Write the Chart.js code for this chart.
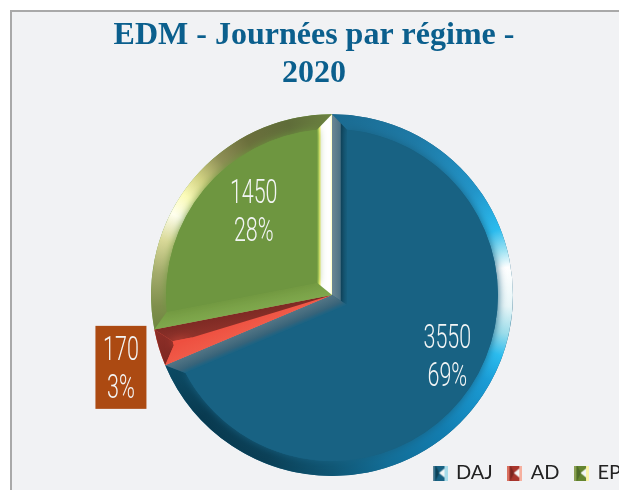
<!DOCTYPE html>
<html><head><meta charset="utf-8">
<script src="https://cdn.jsdelivr.net/npm/chart.js@4/dist/chart.umd.min.js"></script>
<style>
html,body{margin:0;padding:0;background:#fff;overflow:hidden;width:619px;height:490px}
#frame{position:absolute;left:10px;top:10px;width:660px;height:520px;border:2px solid #a9a9a9;background:#f1f2f4}
#box{position:absolute;left:0;top:0;width:640px;height:510px}
</style></head><body>
<div id="frame"><div id="box"><canvas id="c"></canvas></div></div>
<script>
const titleLines = ['EDM - Journées par régime -', '2020'];
const categories = ['DAJ', 'AD', 'EP'];
const values = [3550, 170, 1450];
const percents = ['69%', '3%', '28%'];

const looks = [
 { inner:'#186283', d:15, legend:['#186283','#5f8496','#0d4258','#a9dcea'],
   rim:[[0,'#1a6a90'],[.08,'#1e7aa6'],[.15,'#2295c9'],[.19,'#2bbcef'],[.21,'#9fe3f3'],[.225,'#ffffff'],[.26,'#e8f6f8'],[.285,'#9adcea'],[.305,'#2bbcef'],[.33,'#1a9cd6'],[.39,'#127db0'],[.45,'#126d96'],[.5,'#0f5674'],[.56,'#0a3f56'],[.63,'#083a50'],[.69,'#0c4c66']],
   startEdge:[[0,'#6b8794'],[.55,'#4f7385'],[.62,'#0e4158'],[1,'#155a78']], endEdge:[[0,'#527585'],[.7,'#3a6378'],[1,'#1c6484']] },
 { inner:'#ee5040', d:15, legend:['#a8352c','#d9705f','#7a2620','#f6b09f'],
   rim:[[.68,'#7a2620'],[.72,'#8e2f28']],
   startEdge:[[0,'#f05a48'],[1,'#ee5040']], endEdge:[[0,'#7e2a24'],[1,'#8f322a']] },
 { inner:'#6e9640', d:15, legend:['#64852f','#8a9f55','#4f6b2a','#fbf4a8'],
   rim:[[.71,'#67823a'],[.74,'#7f8f4c'],[.77,'#a3ab6b'],[.80,'#d9d998'],[.825,'#ffffee'],[.845,'#fbfbb8'],[.865,'#d2d283'],[.89,'#8e8f55'],[.92,'#6b6f3c'],[.96,'#5f6c39'],[1,'#6b8240']],
   startEdge:[[0,'#7fa84d'],[1,'#759c42']], endEdge:[[0,'#ffffb8'],[.12,'#ffffff'],[.7,'#ffffff'],[.82,'#fbf97a'],[.92,'#a7cc58'],[1,'#759c42']] }
];
const labelOffsets = [[40,11],[-124.5,46],[-8.5,-26.5]];
const adBox = { color:'#ac4a12', w:51, h:83 };

function icon(l){
  const s=15,c=document.createElement('canvas');c.width=c.height=s;const x=c.getContext('2d');
  x.fillStyle=l[0];x.fillRect(0,0,s,s);
  x.fillStyle=l[1];x.fillRect(0,0,2,s);
  x.fillStyle=l[3];x.fillRect(s-3,0,3,s);
  x.fillStyle=l[2];x.beginPath();x.moveTo(3,0);x.lineTo(7,7.5);x.lineTo(3,s);x.closePath();x.fill();
  x.fillStyle='#f4f6f6';x.beginPath();x.moveTo(s-3,3);x.lineTo(6.5,7.5);x.lineTo(s-3,s-3);x.closePath();x.fill();
  return c;
}

const bevel = {
  id:'bevel',
  afterDatasetDraw(chart){
    const ctx=chart.ctx;
    chart.getDatasetMeta(0).data.forEach((a,i)=>{
      const L=looks[i],{x,y,startAngle:s,endAngle:e,outerRadius:r}=a;
      const half=(e-s)/2,mid=(s+e)/2,sh=Math.sin(half);
      const d=Math.min(L.d,r*sh/(1+sh)*.98);
      const ri=r-d,da=Math.asin(d/ri),dist=d/sh;
      const I=[x+dist*Math.cos(mid),y+dist*Math.sin(mid)];
      const P=(rad,t)=>[x+rad*Math.cos(t),y+rad*Math.sin(t)];
      ctx.save();
      const cg=ctx.createConicGradient(-Math.PI/2,x,y);
      L.rim.forEach(q=>cg.addColorStop(q[0],q[1]));
      ctx.fillStyle=cg;
      ctx.beginPath();ctx.arc(x,y,r,s,e);ctx.arc(x,y,ri,e-da,s+da,true);ctx.closePath();ctx.fill();
      const edge=(ang,sign,stops,inAng)=>{
        const n=ang+sign*Math.PI/2,C=[x,y],A=P(r,ang),B=P(ri,inAng);
        const g=ctx.createLinearGradient(x,y,x+d*Math.cos(n),y+d*Math.sin(n));
        stops.forEach(q=>g.addColorStop(q[0],q[1]));
        ctx.fillStyle=g;ctx.beginPath();
        [C,A,B,I].forEach((p,k)=>k?ctx.lineTo(p[0],p[1]):ctx.moveTo(p[0],p[1]));
        ctx.closePath();ctx.fill();
      };
      edge(s,1,L.startEdge,s+da);
      edge(e,-1,L.endEdge,e-da);
      ctx.save();
      ctx.beginPath();ctx.arc(x,y,r,s,e);ctx.lineTo(x,y);ctx.closePath();ctx.clip();
      ctx.fillStyle=L.inner;ctx.shadowColor=L.inner;ctx.shadowBlur=8;
      ctx.beginPath();ctx.moveTo(I[0],I[1]);ctx.arc(x,y,ri,s+da,e-da);ctx.closePath();ctx.fill();
      ctx.restore();
      ctx.restore();
    });
  },
  afterDraw(chart){
    const ctx=chart.ctx;
    chart.getDatasetMeta(0).data.forEach((a,i)=>{
      const p=a.getCenterPoint(),cx=p.x+labelOffsets[i][0],cy=p.y+labelOffsets[i][1];
      if(i===1){ctx.fillStyle=adBox.color;ctx.fillRect(cx-adBox.w/2,cy-adBox.h/2,adBox.w,adBox.h);}
      ctx.fillStyle='#f3f5f5';ctx.font='300 33px Roboto';ctx.textAlign='center';ctx.textBaseline='middle';
      [String(values[i]),percents[i]].forEach((t,k)=>{
        ctx.save();ctx.translate(cx,cy+3+(k===0?-19:19));ctx.scale(.65,1);ctx.fillText(t,0,0);ctx.restore();
      });
    });
  }
};
const placeBoxes = {
  id:'placeBoxes',
  afterLayout(chart){
    const t=chart.titleBlock,l=chart.legend;
    t.left-=18;t.right-=18;
    l.left=406;l.top=chart.chartArea.bottom-29;l.bottom=l.top+l.height;
  }
};
new Chart(document.getElementById('c'),{
  type:'pie',
  data:{labels:categories,datasets:[{data:values,backgroundColor:looks.map(l=>l.inner),borderWidth:0}]},
  options:{
    responsive:true,maintainAspectRatio:false,animation:false,
    layout:{padding:0},
    plugins:{
      title:{display:true,text:titleLines,color:'#0b5f8d',font:{family:'"Liberation Serif"',size:32,weight:'bold',lineHeight:1.19},padding:{top:5,bottom:21}},
      legend:{position:'bottom',align:'start',labels:{
        color:'#222',font:{family:'Lato',size:20},boxWidth:12,padding:16,usePointStyle:true,
        generateLabels(chart){return categories.map((c,i)=>({text:c,pointStyle:icon(looks[i].legend),fontColor:'#222',lineWidth:0,strokeStyle:'transparent',fillStyle:'transparent',index:i,hidden:false}));}
      }},
      tooltip:{enabled:false}
    }
  },
  plugins:[bevel,placeBoxes]
});
</script></body></html>
